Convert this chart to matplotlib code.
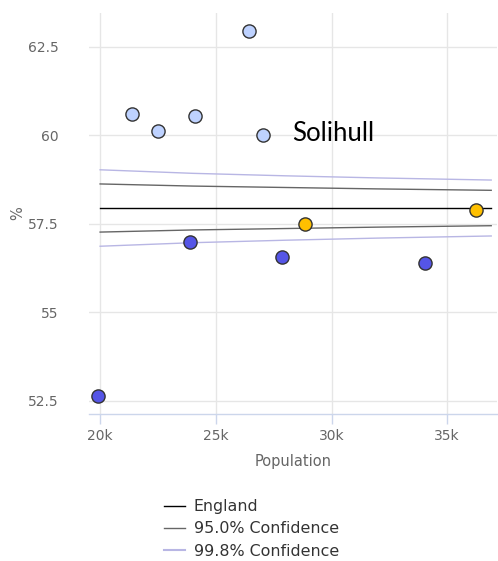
import matplotlib
matplotlib.use("Agg")
import matplotlib.pyplot as plt
from matplotlib.lines import Line2D

# Area values: population (thousands) and percentage
higher_pop = [21.38, 22.5, 24.1, 26.44, 27.04]
higher_val = [60.61, 60.13, 60.55, 62.95, 60.01]
lower_pop = [19.91, 23.89, 27.87, 34.05]
lower_val = [52.64, 56.99, 56.57, 56.40]
similar_pop = [28.85, 36.26]
similar_val = [57.49, 57.89]

# England average and funnel limits
england_value = 57.95
limit_pop = [20.0, 24.0, 28.0, 32.0, 36.9]
upper_95 = [58.63, 58.57, 58.53, 58.49, 58.45]
lower_95 = [57.27, 57.33, 57.37, 57.41, 57.45]
upper_998 = [59.03, 58.93, 58.86, 58.80, 58.74]
lower_998 = [56.87, 56.97, 57.04, 57.10, 57.16]

x_ticks = [20, 25, 30, 35]
x_tick_labels = ["20k", "25k", "30k", "35k"]
y_ticks = [52.5, 55, 57.5, 60, 62.5]
y_tick_labels = ["52.5", "55", "57.5", "60", "62.5"]

fig = plt.figure(figsize=(4.98, 5.61), dpi=100)
ax = fig.add_axes([89 / 498, 1 - 414 / 561, 408 / 498, 401 / 561])

c_england = "#000000"
c_95 = "#666666"
c_998 = "#b8b6e4"

ax.plot([limit_pop[0], limit_pop[-1]], [england_value, england_value],
        color=c_england, lw=1.0, zorder=3)
ax.plot(limit_pop, upper_95, color=c_95, lw=1.0, zorder=3)
ax.plot(limit_pop, lower_95, color=c_95, lw=1.0, zorder=3)
ax.plot(limit_pop, upper_998, color=c_998, lw=1.0, zorder=3)
ax.plot(limit_pop, lower_998, color=c_998, lw=1.0, zorder=3)

marker_kw = dict(marker="o", linestyle="none", markersize=9.5,
                 markeredgecolor="#333333", markeredgewidth=1.0, zorder=4)
ax.plot(higher_pop, higher_val, markerfacecolor="#bed2ff", **marker_kw)
ax.plot(lower_pop, lower_val, markerfacecolor="#5555e6", **marker_kw)
ax.plot(similar_pop, similar_val, markerfacecolor="#ffc000", **marker_kw)

ax.text(28.3, 60.05, "Solihull", fontsize=18.5, family="Lato",
        color="#000000", va="center", ha="left", zorder=5)

ax.set_xlim(19.52, 37.15)
ax.set_ylim(52.13, 63.46)
ax.set_xticks(x_ticks)
ax.set_xticklabels(x_tick_labels)
ax.set_yticks(y_ticks)
ax.set_yticklabels(y_tick_labels)

ax.grid(True, color="#e6e6e6", lw=1.0, zorder=0)
ax.set_axisbelow(True)
for side in ["top", "right", "left"]:
    ax.spines[side].set_visible(False)
ax.spines["bottom"].set_color("#ccd6eb")
ax.spines["bottom"].set_linewidth(1.0)
ax.tick_params(axis="x", colors="#ccd6eb", length=7, width=1.0,
               labelcolor="#666666", labelsize=10, pad=4)
ax.tick_params(axis="y", length=0, labelcolor="#666666", labelsize=10, pad=22)

ax.set_xlabel("Population", color="#666666", fontsize=10.5, labelpad=8)
ax.set_ylabel("%", color="#666666", fontsize=10.5)
ax.yaxis.set_label_coords(-0.157, 0.5)

handles = [
    Line2D([], [], color=c_england, lw=1.0),
    Line2D([], [], color=c_95, lw=1.0),
    Line2D([], [], color=c_998, lw=1.5),
]
labels = ["England", "95.0% Confidence", "99.8% Confidence"]
fig.legend(handles, labels, loc="upper left",
           bbox_to_anchor=(158 / 498, 1 - 493 / 561), frameon=False,
           fontsize=11.4, handlelength=1.3, handletextpad=0.55,
           labelspacing=0.45, labelcolor="#333333", borderaxespad=0)

fig.savefig("out.png", dpi=100)
